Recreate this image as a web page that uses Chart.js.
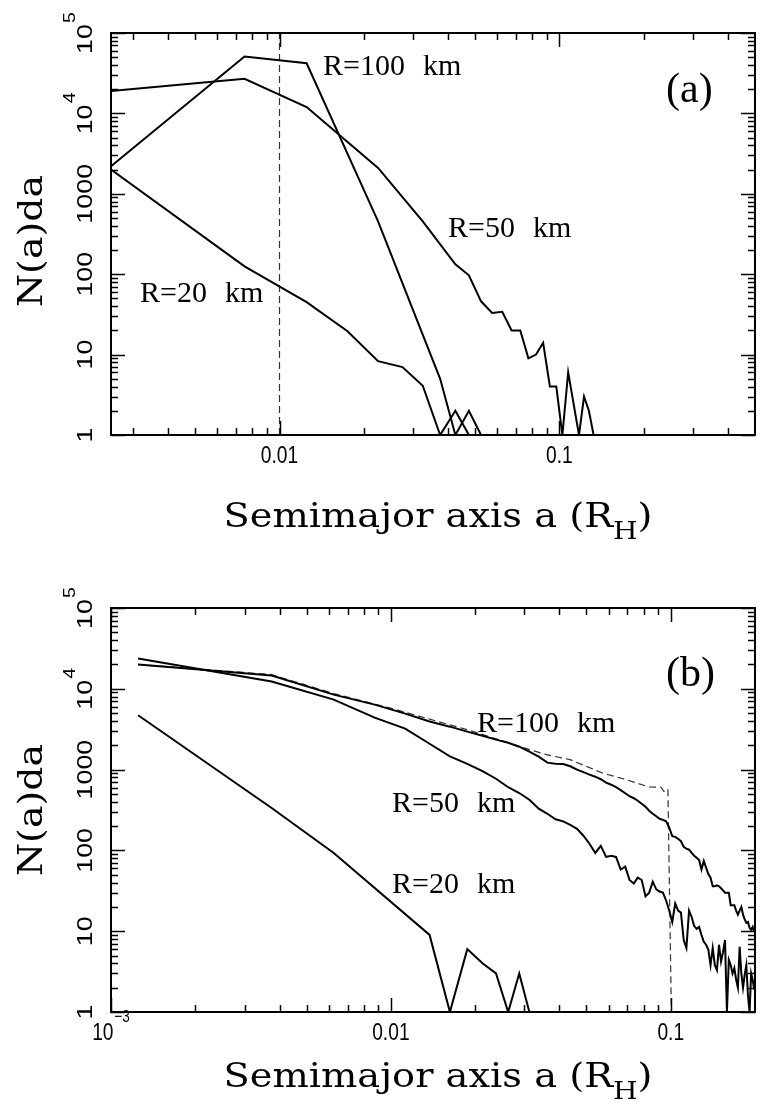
<!DOCTYPE html>
<html>
<head>
<meta charset="utf-8">
<script src="https://cdn.jsdelivr.net/npm/chart.js@4.4.1/dist/chart.umd.min.js"></script>
<style>
  html, body { margin: 0; padding: 0; background: #fff; }
  #wrap { position: relative; width: 757px; height: 1118px; }
  canvas { position: absolute; left: 0; }
  #chartA { top: 0; }
  #chartB { top: 559px; }
</style>
</head>
<body>
<div id="wrap">
  <canvas id="chartA" width="757" height="559"></canvas>
  <canvas id="chartB" width="757" height="559"></canvas>
</div>
<script>
// ---------- panel (a) data ----------
const r100A_x = [0.0025, 0.0075, 0.0125, 0.0225, 0.0375, 0.0425, 0.0475, 0.0525];
const r100A_y = [2200, 51000, 42000, 455, 5, 1, 2, 1];

const r50A_x = [0.0025, 0.0075, 0.0125, 0.0225, 0.0325, 0.0425, 0.0475, 0.0525, 0.0575, 0.0625,
                0.0675, 0.0725, 0.0775, 0.0825, 0.0875, 0.0925, 0.0975, 0.1025, 0.1075, 0.1175,
                0.1225, 0.1275, 0.1325];
const r50A_y = [19000, 27000, 12000, 2100, 455, 133, 97, 46, 33, 34,
                20, 20, 9, 10, 14, 4, 4, 1, 6, 1,
                3, 2, 1];

const r20A_x = [0.0025, 0.0075, 0.0125, 0.0175, 0.0225, 0.0275, 0.0325, 0.0375, 0.0425, 0.0475];
const r20A_y = [2000, 125, 45, 19.5, 8.3, 7, 4.1, 1, 2, 1];

// vertical dashed line at a = 0.01
const dashA_x = [0.01, 0.01];
const dashA_y = [1, 100000];

// ---------- panel (b) data ----------
const binsB = [
  0.00125, 0.00375, 0.00625, 0.00875, 0.01125, 0.01375, 0.01625, 0.01875, 0.02125, 0.02375,
  0.02625, 0.02875, 0.03125, 0.03375, 0.03625, 0.03875, 0.04125, 0.04375, 0.04625, 0.04875,
  0.05125, 0.05375, 0.05625, 0.05875, 0.06125, 0.06375, 0.06625, 0.06875, 0.07125, 0.07375,
  0.07625, 0.07875, 0.08125, 0.08375, 0.08625, 0.08875, 0.09125, 0.09375, 0.09625, 0.09875,
  0.10125, 0.10375, 0.10625, 0.10875, 0.11125, 0.11375, 0.11625, 0.11875, 0.12125, 0.12375,
  0.12625, 0.12875, 0.13125, 0.13375, 0.13625, 0.13875, 0.14125, 0.14375, 0.14625, 0.14875,
  0.15125, 0.15375, 0.15625, 0.15875, 0.16125, 0.16375, 0.16625, 0.16875, 0.17125, 0.17375,
  0.17625, 0.17875, 0.18125, 0.18375, 0.18625, 0.18875, 0.19125, 0.19375, 0.19625, 0.19875
];
const r100B_y = [
  20000, 14600, 8470, 6370, 4930, 3930, 3400, 2950, 2630, 2350,
  2150, 1920, 1670, 1445, 1220, 1180, 1170, 1100, 1000, 929,
  865, 817, 760, 689, 650, 605, 556, 510, 468, 442,
  412, 378, 347, 310, 284, 265, 246, 239, 229, 191,
  150, 147, 139, 130, 111, 105, 102, 93, 86, 81,
  76, 58, 74, 61, 51, 46, 36, 36, 37, 36,
  34, 32, 30, 30, 30, 21, 21, 21, 18, 16,
  18, 20, 16, 14, 12.7, 13, 11, 10.4, 11.3, 9.8
];
const r50B_y = [
  23700, 12300, 7350, 4400, 3210, 2090, 1460, 1180, 955, 771,
  605, 513, 424, 328, 284, 243, 229, 207, 185, 152,
  121, 93, 114, 83, 86, 83, 58, 63, 43, 39,
  46, 43, 27, 30, 41, 33, 31, 30, 24, 18,
  13, 22, 18, 17, 7.8, 6.2, 18, 15, 11.6, 10.7,
  11.3, 9, 7.4, 6.8, 5.9, 3.8, 6.2, 3.8, 3.3, 6.8,
  4.2, 5.5, 7.8, 1, 4.4, 3.8, 3, 3.5, 2.5, 2,
  6.4, 3, 2, 2.9, 3.8, 1.6, 1, 3, 2.5, 1.9
];
const r20B_x = [0.00125, 0.00375, 0.00625, 0.01375, 0.01625, 0.01875, 0.02125, 0.02375, 0.02625, 0.02875, 0.03125];
const r20B_y = [4700, 335, 93, 9, 1, 6, 4, 3, 1, 3, 1];

const dashB_x = [0.00125, 0.00375, 0.00625, 0.0099, 0.0117, 0.0191, 0.0313, 0.036, 0.0437,
                 0.057, 0.0693, 0.0838, 0.0923, 0.0945, 0.0977, 0.1005];
const dashB_y = [20000, 15000, 8720, 5800, 4930, 3060, 1765, 1530, 1327,
                 907, 750, 609, 605, 537, 575, 1];

// ---------- tick labels ----------
const xTicksA = [0.01, 0.1];
const xLabelsA = ['0.01', '0.1'];
const xTicksB = [0.001, 0.01, 0.1];
const xLabelsB = ['10^-3', '0.01', '0.1'];
const yTicks = [1, 10, 100, 1000, 10000, 100000];
const yLabels = ['1', '10', '100', '1000', '10^4', '10^5'];

const SANS = '"Liberation Sans", Arial, sans-serif';
const SERIF = '"Liberation Serif", "Times New Roman", serif';
const TITLE = '"DejaVu Serif", serif';

function points(xs, ys) {
    return xs.map((x, i) => ({ x: x, y: ys[i] }));
}

function solid(xs, ys) {
    return { data: points(xs, ys), borderColor: '#000', borderWidth: 2, pointRadius: 0, fill: false, tension: 0 };
}

function dashed(xs, ys) {
    return { data: points(xs, ys), borderColor: '#333', borderWidth: 1.2, borderDash: [7, 4], pointRadius: 0, fill: false, tension: 0 };
}

// minor ticks 2..9 x 10^n strictly inside the range
function minorValues(min, max) {
    const out = [];
    for (let d = Math.floor(Math.log10(min)); d <= Math.ceil(Math.log10(max)); d++) {
        for (let m = 2; m <= 9; m++) {
            const v = m * Math.pow(10, d);
            if (v > min * 1.0001 && v < max * 0.9999) out.push(v);
        }
    }
    return out;
}

// tick label centred on the origin, baseline at 0; "10^4" gets a superscript
function drawTickLabel(ctx, label, size, sx) {
    const parts = label.split('^');
    const base = parts[0];
    const exp = parts[1] ? parts[1].replace('-', '\u2212') : '';
    const expSize = Math.round(size * 0.72);
    ctx.font = size + 'px ' + SANS;
    const wb = ctx.measureText(base).width;
    let we = 0;
    if (exp) {
        ctx.font = expSize + 'px ' + SANS;
        we = ctx.measureText(exp).width + 1;
    }
    ctx.save();
    ctx.scale(sx, 1);
    const x0 = -(wb + we) / 2;
    ctx.textAlign = 'left';
    ctx.textBaseline = 'alphabetic';
    ctx.font = size + 'px ' + SANS;
    ctx.fillText(base, x0, 0);
    if (exp) {
        ctx.font = expSize + 'px ' + SANS;
        ctx.fillText(exp, x0 + wb + 1, -Math.round(size * 0.75));
    }
    ctx.restore();
}

// text made of parts (for the R_H subscript), centred, stretched to a target width
function drawParts(ctx, parts, targetW) {
    let w = 0;
    parts.forEach(p => { ctx.font = p.font; p.w = ctx.measureText(p.t).width; w += p.w; });
    const sx = targetW / w;
    ctx.save();
    ctx.scale(sx, 1);
    ctx.textAlign = 'left';
    ctx.textBaseline = 'alphabetic';
    let x = -w / 2;
    parts.forEach(p => { ctx.font = p.font; ctx.fillText(p.t, x, p.dy || 0); x += p.w; });
    ctx.restore();
}

function drawNote(ctx, note, off) {
    ctx.save();
    ctx.font = (note.size || 30) + 'px ' + SERIF;
    ctx.textAlign = 'left';
    ctx.textBaseline = 'alphabetic';
    let x = note.x;
    note.text.split(' ').forEach(word => {
        ctx.fillText(word, x, note.y - off);
        x += ctx.measureText(word).width + 18;
    });
    ctx.restore();
}

function decor(spec) {
    return {
        id: 'decor',
        afterDatasetsDraw(chart) {
            const ctx = chart.ctx;
            const area = chart.chartArea;
            const xs = chart.scales.x;
            const ys = chart.scales.y;
            const off = spec.offsetY;
            ctx.save();
            ctx.strokeStyle = '#000';
            ctx.fillStyle = '#000';

            // inward tick marks on all four sides
            ctx.lineWidth = 1.5;
            ctx.beginPath();
            const xt = minorValues(xs.min, xs.max).map(v => [v, 7]).concat(spec.xTicks.map(v => [v, 14]));
            xt.forEach(([v, len]) => {
                const p = Math.round(xs.getPixelForValue(v)) + 0.5;
                ctx.moveTo(p, area.bottom); ctx.lineTo(p, area.bottom - len);
                ctx.moveTo(p, area.top); ctx.lineTo(p, area.top + len);
            });
            const yt = minorValues(ys.min, ys.max).map(v => [v, 7]).concat(yTicks.map(v => [v, 14]));
            yt.forEach(([v, len]) => {
                const p = Math.round(ys.getPixelForValue(v)) + 0.5;
                ctx.moveTo(area.left, p); ctx.lineTo(area.left + len, p);
                ctx.moveTo(area.right, p); ctx.lineTo(area.right - len, p);
            });
            ctx.stroke();

            // frame
            ctx.lineWidth = 2;
            ctx.strokeRect(area.left, area.top, area.right - area.left, area.bottom - area.top);

            // x tick labels
            spec.xTicks.forEach((v, i) => {
                ctx.save();
                ctx.translate(xs.getPixelForValue(v), area.bottom + 28);
                drawTickLabel(ctx, spec.xLabels[i], 24, 0.8);
                ctx.restore();
            });

            // y tick labels, rotated
            yTicks.forEach((v, i) => {
                ctx.save();
                ctx.translate(92, ys.getPixelForValue(v));
                ctx.rotate(-Math.PI / 2);
                drawTickLabel(ctx, yLabels[i], 22, 1.22);
                ctx.restore();
            });

            // axis titles
            ctx.save();
            ctx.translate(438, spec.xTitleY - off);
            drawParts(ctx, [
                { t: 'Semimajor axis a (R', font: '34px ' + TITLE },
                { t: 'H', font: '25px ' + TITLE, dy: 12 },
                { t: ')', font: '34px ' + TITLE }
            ], 429);
            ctx.restore();

            ctx.save();
            ctx.translate(42, spec.yTitleY - off);
            ctx.rotate(-Math.PI / 2);
            drawParts(ctx, [{ t: 'N(a)da', font: '34px ' + TITLE }], 132);
            ctx.restore();

            // curve annotations
            spec.notes.forEach(n => drawNote(ctx, n, off));
            ctx.restore();
        }
    };
}

function makeChart(id, datasets, xMin, xMax, padding, spec) {
    return new Chart(document.getElementById(id), {
        type: 'line',
        data: { datasets: datasets },
        options: {
            responsive: false,
            animation: false,
            events: [],
            layout: { padding: padding },
            plugins: { legend: { display: false }, tooltip: { enabled: false } },
            scales: {
                x: { type: 'logarithmic', min: xMin, max: xMax, display: false },
                y: { type: 'logarithmic', min: 1, max: 100000, display: false }
            }
        },
        plugins: [decor(spec)]
    });
}

// (a) plot box: x 111..755, y 33..435
makeChart('chartA', [
    solid(r100A_x, r100A_y),
    solid(r50A_x, r50A_y),
    solid(r20A_x, r20A_y),
    dashed(dashA_x, dashA_y)
], 0.0025, 0.5, { left: 111, right: 2, top: 33, bottom: 124 }, {
    offsetY: 0,
    xTicks: xTicksA, xLabels: xLabelsA,
    xTitleY: 527, yTitleY: 241,
    notes: [
        { text: 'R=100 km', x: 323, y: 75 },
        { text: 'R=50 km', x: 448, y: 237 },
        { text: 'R=20 km', x: 140, y: 302 },
        { text: '(a)', x: 666, y: 102, size: 42 }
    ]
});

// (b) plot box: x 111..755, y 608..1012 (canvas starts at 559)
makeChart('chartB', [
    solid(binsB, r100B_y),
    solid(binsB, r50B_y),
    solid(r20B_x, r20B_y),
    dashed(dashB_x, dashB_y)
], 0.001, 0.2, { left: 111, right: 2, top: 49, bottom: 106 }, {
    offsetY: 559,
    xTicks: xTicksB, xLabels: xLabelsB,
    xTitleY: 1087, yTitleY: 810,
    notes: [
        { text: 'R=100 km', x: 477, y: 732 },
        { text: 'R=50 km', x: 392, y: 812 },
        { text: 'R=20 km', x: 392, y: 893 },
        { text: '(b)', x: 666, y: 686, size: 42 }
    ]
});
</script>
</body>
</html>
